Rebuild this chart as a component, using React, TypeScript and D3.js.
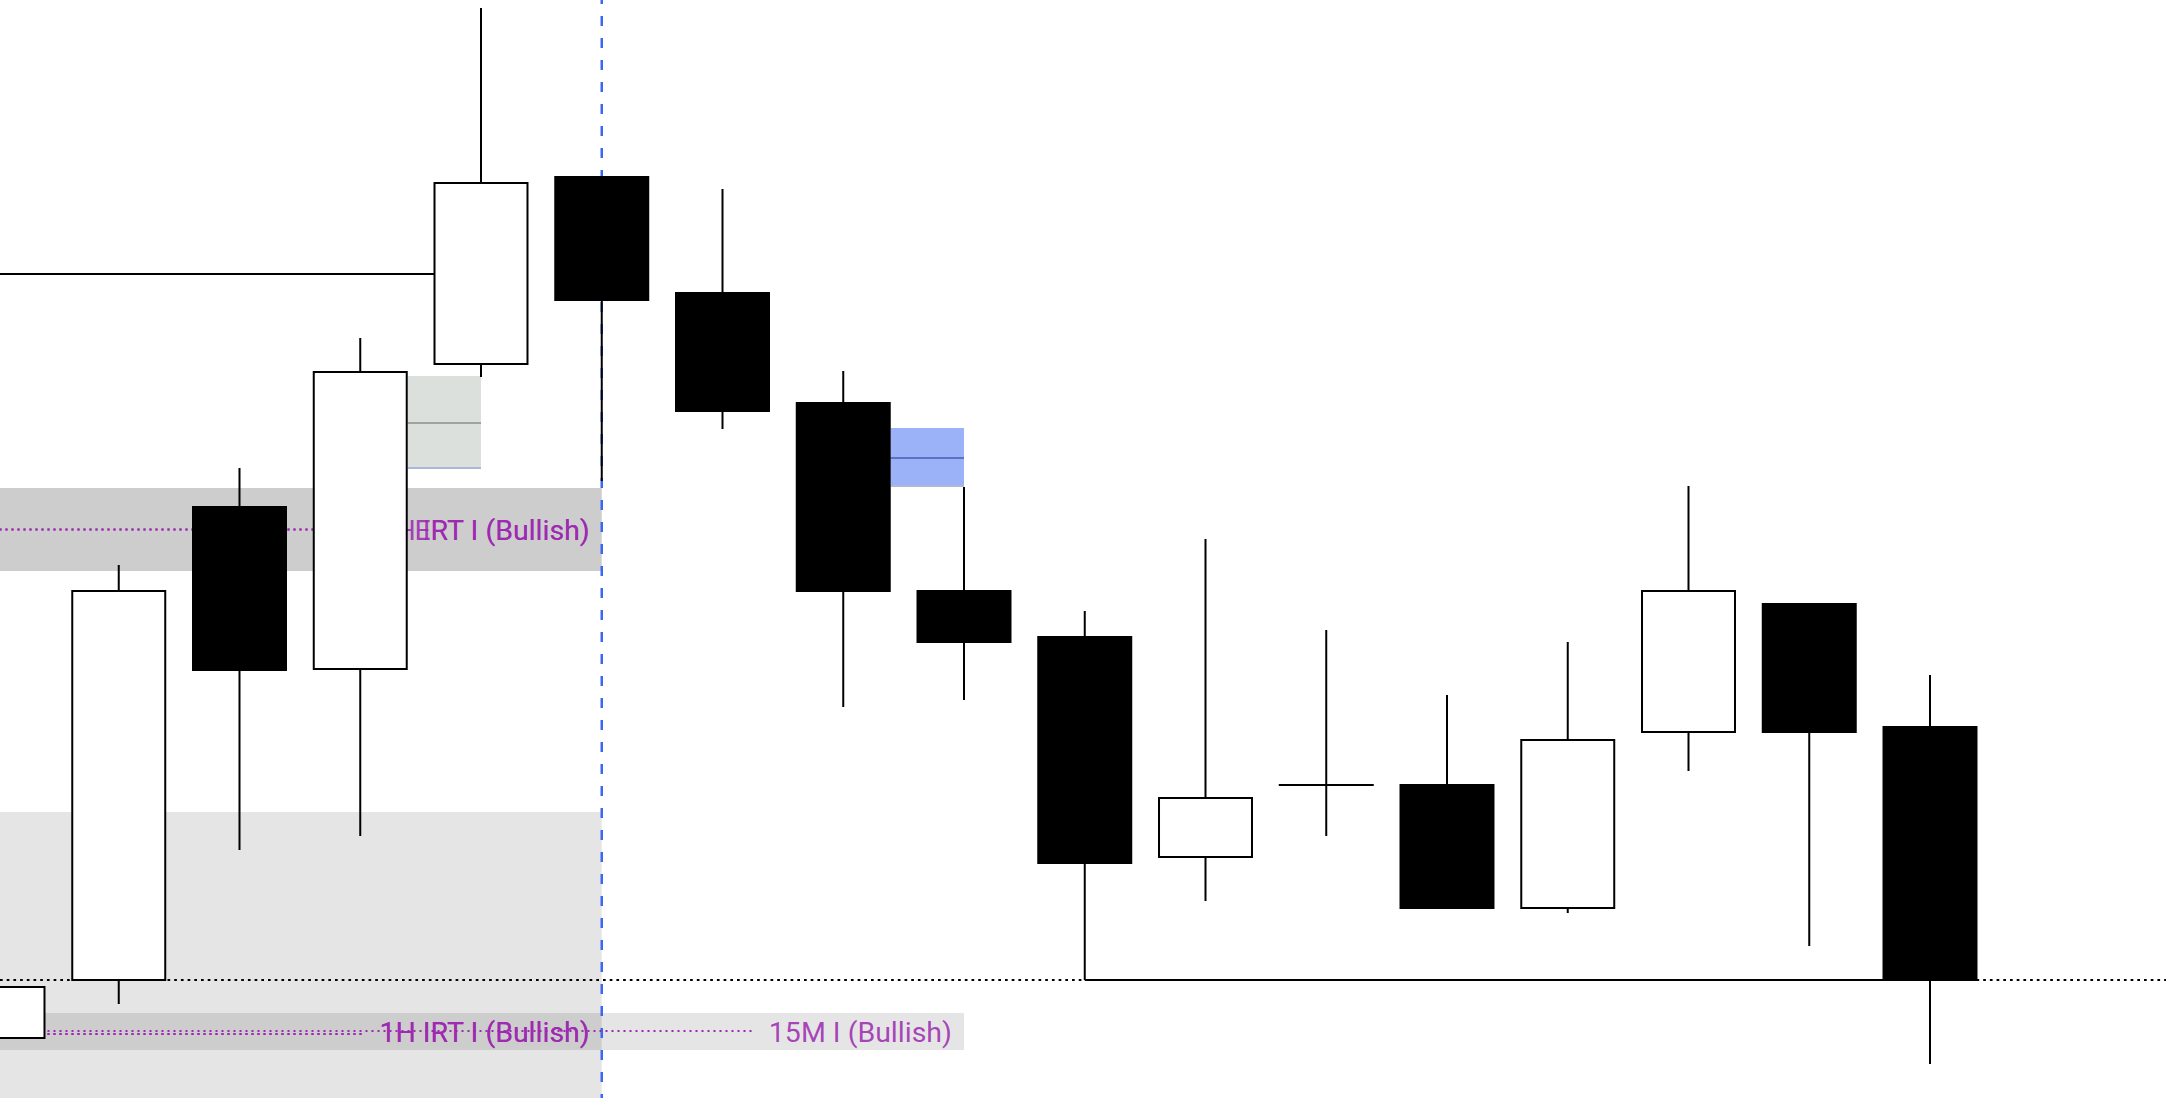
import React, { useEffect, useRef } from "react";
import * as d3 from "d3";

const W = 2166;
const H = 1098;

// Candles (index 0 is the partially visible one at the left edge)
const candleIndex = [0, 1, 2, 3, 4, 5, 6, 7, 8, 9, 10, 11, 12, 13, 14, 15, 16];
const opens = [106.2, 112.0, 159.3, 143.1, 173.6, 192.3, 180.7, 169.7, 150.9, 146.3, 124.3, 131.5, 131.5, 119.2, 136.8, 149.6, 137.3];
const closes = [111.3, 150.9, 143.0, 172.8, 191.7, 180.0, 168.9, 150.9, 145.8, 123.7, 130.2, 131.5, 119.2, 136.0, 150.9, 136.8, 112.0];
const highs = [111.3, 153.5, 163.2, 176.2, 209.2, 192.3, 191.1, 172.9, 161.3, 148.9, 156.1, 147.0, 140.5, 145.8, 161.4, 149.6, 142.5];
const lows = [106.2, 109.6, 125.0, 126.4, 172.3, 161.9, 167.1, 139.3, 140.0, 112.0, 119.9, 126.4, 119.2, 118.7, 132.9, 115.4, 103.6];

// Horizontal structure lines
const swingHighPrice = 182.6;
const swingHighFrom = -6;
const swingHighTo = 4;
const swingLowPrice = 112.0;
const swingLowFrom = 9;
const swingLowTo = 16;
const equalLevelPrice = 112.0;
const currentIndex = 5;

// Shaded zones (semi-transparent)
const zoneTops = [161.2, 161.2, 128.8, 108.7];
const zoneBottoms = [152.9, 152.9, 85.0, 105.0];
const zoneEnds = [5, 5, 5, 8];

// Zone labels
const labelTexts = ["1H IRT I (Bullish)", "1H ERT I (Bullish)", "1H IRT I (Bullish)", "1H IRT I (Bullish)", "15M I (Bullish)"];
const labelPrices = [157.05, 157.05, 106.85, 106.85, 106.85];
const labelLinePrices = [157.05, 157.05, 106.6, 106.6, 106.9];
const labelEnds = [5, 5, 5, 5, 8];

// Small imbalance boxes
const boxFrom = [3, 7];
const boxTo = [4, 8];
const boxTops = [172.4, 167.2];
const boxBottoms = [163.1, 161.3];
const boxMids = [167.7, 164.2];
const boxFills = ["#dce0dd", "#9bb1f8"];
const boxMidColors = ["#9ea49e", "#5b73c4"];
const boxEdgeColors = ["#a9b7dc", "#b0b8d8"];

export default function App() {
  const ref = useRef<SVGSVGElement>(null);

  useEffect(() => {
    const svg = d3.select(ref.current);
    svg.selectAll("*").remove();

    const x = d3.scaleLinear().domain([4, 16]).range([481, 1930]);
    const y = d3.scaleLinear().domain([100, 210]).range([1100, 0]);
    const step = x(1) - x(0);
    const bodyW = step * 0.77;

    // zones
    const gZones = svg.append("g");
    zoneTops.forEach((t, i) => {
      gZones
        .append("rect")
        .attr("x", x(-6))
        .attr("y", y(t))
        .attr("width", x(zoneEnds[i]) - x(-6))
        .attr("height", y(zoneBottoms[i]) - y(t))
        .attr("fill", "rgba(0,0,0,0.1)");
    });

    // boxes
    const gBoxes = svg.append("g");
    boxFrom.forEach((f, i) => {
      const x0 = x(f) + bodyW / 2 + 1;
      const x1 = x(boxTo[i]);
      gBoxes
        .append("rect")
        .attr("x", x0)
        .attr("y", y(boxTops[i]))
        .attr("width", x1 - x0)
        .attr("height", y(boxBottoms[i]) - y(boxTops[i]))
        .attr("fill", boxFills[i]);
      gBoxes
        .append("line")
        .attr("x1", x0)
        .attr("x2", x1)
        .attr("y1", y(boxMids[i]))
        .attr("y2", y(boxMids[i]))
        .attr("stroke", boxMidColors[i])
        .attr("stroke-width", 2);
      gBoxes
        .append("line")
        .attr("x1", x0)
        .attr("x2", x1)
        .attr("y1", y(boxBottoms[i]) - 1)
        .attr("y2", y(boxBottoms[i]) - 1)
        .attr("stroke", boxEdgeColors[i])
        .attr("stroke-width", 2);
    });

    // current time vertical dashed line
    svg
      .append("line")
      .attr("x1", x(currentIndex))
      .attr("x2", x(currentIndex))
      .attr("y1", -6)
      .attr("y2", H + 10)
      .attr("stroke", "#3d66f2")
      .attr("stroke-width", 2.5)
      .attr("stroke-dasharray", "10 12");

    // equal level dotted line
    svg
      .append("line")
      .attr("x1", 0)
      .attr("x2", W)
      .attr("y1", y(equalLevelPrice))
      .attr("y2", y(equalLevelPrice))
      .attr("stroke", "#000")
      .attr("stroke-width", 2)
      .attr("stroke-dasharray", "2.7 4");

    // swing lines
    svg
      .append("line")
      .attr("x1", x(swingHighFrom))
      .attr("x2", x(swingHighTo))
      .attr("y1", y(swingHighPrice))
      .attr("y2", y(swingHighPrice))
      .attr("stroke", "#000")
      .attr("stroke-width", 2);
    svg
      .append("line")
      .attr("x1", x(swingLowFrom))
      .attr("x2", x(swingLowTo))
      .attr("y1", y(swingLowPrice))
      .attr("y2", y(swingLowPrice))
      .attr("stroke", "#000")
      .attr("stroke-width", 2);

    // labels with dotted leader lines
    const gLabels = svg.append("g");
    labelTexts.forEach((txt, i) => {
      const tx = x(labelEnds[i]) - 12;
      const line = gLabels.append("line");
      const text = gLabels
        .append("text")
        .attr("x", tx)
        .attr("y", y(labelPrices[i]))
        .attr("dy", "0.37em")
        .attr("text-anchor", "end")
        .attr("font-family", "Roboto, 'Noto Sans', sans-serif")
        .attr("font-size", 28.5)
        .attr("fill", "#9c27b0")
        .attr("fill-opacity", 0.85)
        .text(txt);
      const len = (text.node() as SVGTextElement).getComputedTextLength();
      line
        .attr("x1", x(-6))
        .attr("x2", tx - len - 14)
        .attr("y1", y(labelLinePrices[i]))
        .attr("y2", y(labelLinePrices[i]))
        .attr("stroke", "#9c27b0")
        .attr("stroke-width", 2)
        .attr("stroke-dasharray", "2 4");
    });

    // candles
    const gC = svg.append("g");
    candleIndex.forEach((ci) => {
      const o = opens[ci];
      const c = closes[ci];
      const up = c >= o;
      gC
        .append("line")
        .attr("x1", x(ci))
        .attr("x2", x(ci))
        .attr("y1", y(highs[ci]))
        .attr("y2", y(lows[ci]))
        .attr("stroke", "#000")
        .attr("stroke-width", 2);
      const h = Math.abs(y(o) - y(c));
      if (h < 1) {
        gC
          .append("line")
          .attr("x1", x(ci) - bodyW / 2 - 1)
          .attr("x2", x(ci) + bodyW / 2 + 1)
          .attr("y1", y(o))
          .attr("y2", y(o))
          .attr("stroke", "#000")
          .attr("stroke-width", 2);
      } else {
        gC
          .append("rect")
          .attr("x", x(ci) - bodyW / 2)
          .attr("y", y(Math.max(o, c)))
          .attr("width", bodyW)
          .attr("height", h)
          .attr("fill", up ? "#fff" : "#000")
          .attr("stroke", "#000")
          .attr("stroke-width", 2);
      }
    });
  }, []);

  return (
    <svg
      ref={ref}
      width={W}
      height={H}
      style={{ position: "absolute", left: 0, top: 0, background: "#fff", display: "block" }}
    />
  );
}
